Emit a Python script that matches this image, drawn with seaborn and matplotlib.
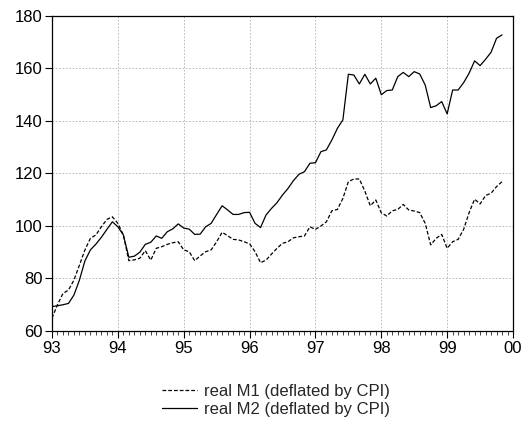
import matplotlib
matplotlib.use('Agg')
import matplotlib.pyplot as plt
import seaborn as sns
import numpy as np
import pandas as pd
from matplotlib.ticker import MultipleLocator

# monthly observations, 1993M1 .. 1999M11
start_year = 1993
real_m1 = [64.9, 70.0, 74.3, 75.6, 79.4, 85.1, 90.9, 95.3, 96.6, 99.7, 102.5, 103.5,
           101.0, 96.6, 86.8, 87.1, 87.7, 90.6, 87.0, 91.5, 92.1, 93.0, 93.6, 94.0,
           90.9, 90.2, 86.8, 88.6, 90.2, 90.9, 94.0, 97.6, 96.3, 94.9, 94.7, 94.0,
           93.2, 90.2, 86.0, 87.0, 89.3, 91.5, 93.4, 94.0, 95.5, 95.9, 96.2, 99.7,
           98.7, 100.0, 101.6, 105.8, 106.3, 110.5, 116.9, 117.9, 117.9, 113.3, 107.7, 109.9,
           105.0, 103.8, 105.8, 106.3, 108.2, 106.1, 105.7, 105.1, 101.0, 92.8, 95.3, 96.8,
           91.5, 94.0, 94.9, 98.7, 105.1, 110.2, 108.4, 111.6, 112.5, 115.0, 116.9]
real_m2 = [69.3, 69.6, 70.0, 70.5, 73.7, 79.4, 86.7, 90.9, 93.1, 95.7, 98.7, 101.6,
           99.7, 96.6, 88.1, 88.5, 90.0, 93.0, 93.8, 96.2, 95.3, 97.8, 98.9, 100.8,
           99.2, 98.8, 96.8, 96.9, 99.7, 101.0, 104.4, 107.7, 106.1, 104.4, 104.4, 105.1,
           105.2, 101.0, 99.4, 104.2, 106.7, 108.9, 111.8, 114.3, 117.3, 119.7, 120.7, 123.9,
           124.1, 128.3, 129.0, 132.8, 137.2, 140.4, 157.8, 157.5, 154.1, 157.8, 154.1, 156.3,
           150.0, 151.6, 151.8, 156.9, 158.5, 156.9, 158.8, 157.9, 153.7, 145.1, 145.8, 147.4,
           142.7, 151.8, 151.8, 154.6, 158.2, 162.9, 161.1, 163.5, 166.2, 171.5, 172.8]
x_labels = ['93', '94', '95', '96', '97', '98', '99', '00']

sns.set_style('white')
plt.rcParams['font.family'] = ['Liberation Sans', 'DejaVu Sans']

t = start_year + np.arange(len(real_m1)) / 12.0
df = pd.DataFrame({'t': t, 'm1': real_m1, 'm2': real_m2})

fig = plt.figure(figsize=(5.22, 4.25), dpi=100)
ax = fig.add_axes([0.0996, 0.2212, 0.8832, 0.7412])

sns.lineplot(data=df, x='t', y='m1', ax=ax, color='black', linewidth=0.9,
             linestyle=(0, (3, 1.6)), label='real M1 (deflated by CPI)')
sns.lineplot(data=df, x='t', y='m2', ax=ax, color='black', linewidth=0.9,
             label='real M2 (deflated by CPI)')

ax.set_xlim(start_year, start_year + 7)
ax.set_ylim(60, 180)
ax.set_xticks(np.arange(start_year, start_year + 8))
ax.set_xticklabels(x_labels)
ax.xaxis.set_minor_locator(MultipleLocator(1 / 12))
ax.yaxis.set_major_locator(MultipleLocator(20))
ax.set_xlabel('')
ax.set_ylabel('')

ax.grid(True, which='major', color='#b0b0b0', linestyle=(0, (2, 2)), linewidth=0.6)
for s in ax.spines.values():
    s.set_color('black')
    s.set_linewidth(0.9)

ax.tick_params(axis='both', which='major', direction='out', length=5, width=0.8,
               labelsize=12, colors='black', left=True, bottom=True, pad=2)
ax.tick_params(axis='x', which='minor', direction='out', length=3, width=0.6, bottom=True)

ax.legend(loc='center', bbox_to_anchor=(0.529, 0.058), bbox_transform=fig.transFigure,
          frameon=False, fontsize=12, handlelength=2.1, handletextpad=0.42,
          labelspacing=0.15, borderpad=0)

fig.savefig('out.png', dpi=100)
plt.close(fig)
